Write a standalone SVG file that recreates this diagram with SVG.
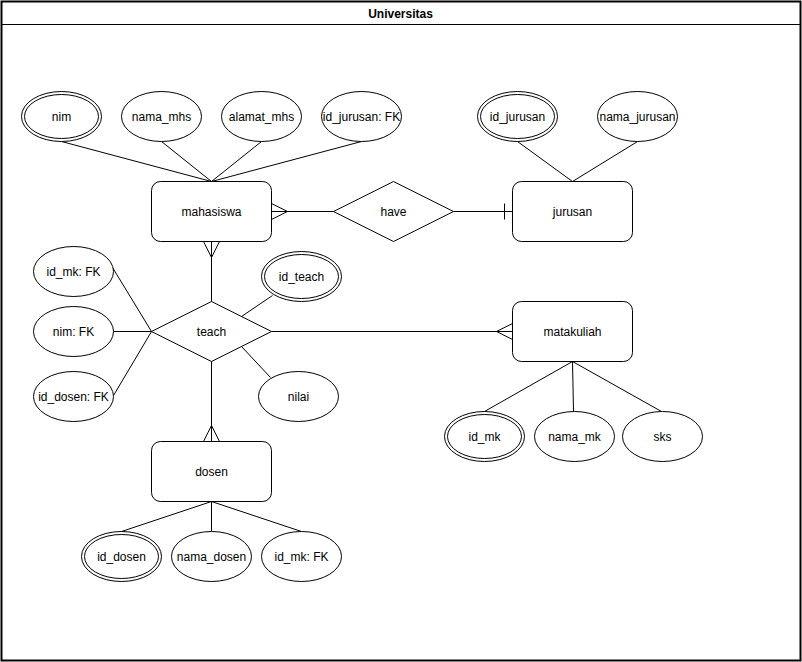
<svg xmlns="http://www.w3.org/2000/svg" width="802" height="662" viewBox="0 0 802 662">
<style>
.ent{fill:#fff;stroke:#000;stroke-width:1}
.att{fill:#fff;stroke:#000;stroke-width:1}
.rel{fill:#fff;stroke:#000;stroke-width:1}
.c{fill:none;stroke:#000;stroke-width:1}
text{font-family:"Liberation Sans",Arial,Helvetica,sans-serif;font-size:12px;fill:#000;text-anchor:middle;dominant-baseline:central}
.title{font-weight:bold}
</style>
<rect x="0" y="0" width="802" height="662" fill="#fff"/>
<g transform="translate(0.5,0.5)">
<g id="container">
<rect x="1" y="1" width="799" height="659" fill="#fff" stroke="#000" stroke-width="2"/>
<line x1="1" y1="24" x2="800" y2="24" stroke="#000" stroke-width="1"/>
<text class="title" x="400" y="13">Universitas</text>
</g>
<g id="connectors">
<path class="c" d="M61,141L211,181M161,141L211,181M261,141L211,181M361,141L211,181"/>
<path class="c" d="M517,141L572,181M637,141L572,181"/>
<path class="c" d="M271,211H333M271,203L287,211L271,219"/>
<path class="c" d="M453,211H512M504,203V219"/>
<path class="c" d="M211,241V301M203,241L211,257L219,241"/>
<path class="c" d="M271,331H512M512,323L496,331L512,339"/>
<path class="c" d="M211,361V441M203,441L211,425L219,441"/>
<path class="c" d="M112,267L151,331M113,331H151M113,395L151,331"/>
<path class="c" d="M241,316L272,295M241,346L270,377"/>
<path class="c" d="M572,361L484,411M572,361L573,411M572,361L661,411"/>
<path class="c" d="M211,501L121,531M211,501V531M211,501L301,531"/>
</g>
<g id="mahasiswa"><rect class="ent" x="151" y="181" width="120" height="60" rx="9"/><text x="211" y="211">mahasiswa</text></g>
<g id="jurusan"><rect class="ent" x="512" y="181" width="120" height="60" rx="9"/><text x="572" y="211">jurusan</text></g>
<g id="matakuliah"><rect class="ent" x="512" y="301" width="120" height="60" rx="9"/><text x="572" y="331">matakuliah</text></g>
<g id="dosen"><rect class="ent" x="151" y="441" width="120" height="60" rx="9"/><text x="211" y="471">dosen</text></g>
<g id="have"><polygon class="rel" points="333,211 393,181 453,211 393,241"/><text x="393" y="211">have</text></g>
<g id="teach"><polygon class="rel" points="151,331 211,301 271,331 211,361"/><text x="211" y="331">teach</text></g>
<g id="nim"><ellipse class="att" cx="61" cy="116" rx="40" ry="25"/><ellipse class="att" cx="61" cy="116" rx="37" ry="22"/><text x="61" y="116">nim</text></g>
<g id="nama_mhs"><ellipse class="att" cx="161" cy="116" rx="40" ry="25"/><text x="161" y="116">nama_mhs</text></g>
<g id="alamat_mhs"><ellipse class="att" cx="261" cy="116" rx="40" ry="25"/><text x="261" y="116">alamat_mhs</text></g>
<g id="id_jurusan_fk"><ellipse class="att" cx="361" cy="116" rx="40" ry="25"/><text x="361" y="116">id_jurusan: FK</text></g>
<g id="id_jurusan"><ellipse class="att" cx="517" cy="116" rx="40" ry="25"/><ellipse class="att" cx="517" cy="116" rx="37" ry="22"/><text x="517" y="116">id_jurusan</text></g>
<g id="nama_jurusan"><ellipse class="att" cx="637" cy="116" rx="40" ry="25"/><text x="637" y="116">nama_jurusan</text></g>
<g id="id_mk_fk_teach"><ellipse class="att" cx="73" cy="271" rx="40" ry="25"/><text x="73" y="271">id_mk: FK</text></g>
<g id="nim_fk"><ellipse class="att" cx="73" cy="331" rx="40" ry="25"/><text x="73" y="331">nim: FK</text></g>
<g id="id_dosen_fk"><ellipse class="att" cx="73" cy="396" rx="40" ry="25"/><text x="73" y="396">id_dosen: FK</text></g>
<g id="id_teach"><ellipse class="att" cx="301" cy="276" rx="40" ry="25"/><ellipse class="att" cx="301" cy="276" rx="37" ry="22"/><text x="301" y="276">id_teach</text></g>
<g id="nilai"><ellipse class="att" cx="298" cy="396" rx="40" ry="25"/><text x="298" y="396">nilai</text></g>
<g id="id_mk"><ellipse class="att" cx="484" cy="436" rx="40" ry="25"/><ellipse class="att" cx="484" cy="436" rx="37" ry="22"/><text x="484" y="436">id_mk</text></g>
<g id="nama_mk"><ellipse class="att" cx="574" cy="436" rx="40" ry="25"/><text x="574" y="436">nama_mk</text></g>
<g id="sks"><ellipse class="att" cx="662" cy="436" rx="40" ry="25"/><text x="662" y="436">sks</text></g>
<g id="id_dosen"><ellipse class="att" cx="121" cy="556" rx="40" ry="25"/><ellipse class="att" cx="121" cy="556" rx="37" ry="22"/><text x="121" y="556">id_dosen</text></g>
<g id="nama_dosen"><ellipse class="att" cx="211" cy="556" rx="40" ry="25"/><text x="211" y="556">nama_dosen</text></g>
<g id="id_mk_fk_dosen"><ellipse class="att" cx="301" cy="556" rx="40" ry="25"/><text x="301" y="556">id_mk: FK</text></g>
</g>
</svg>
